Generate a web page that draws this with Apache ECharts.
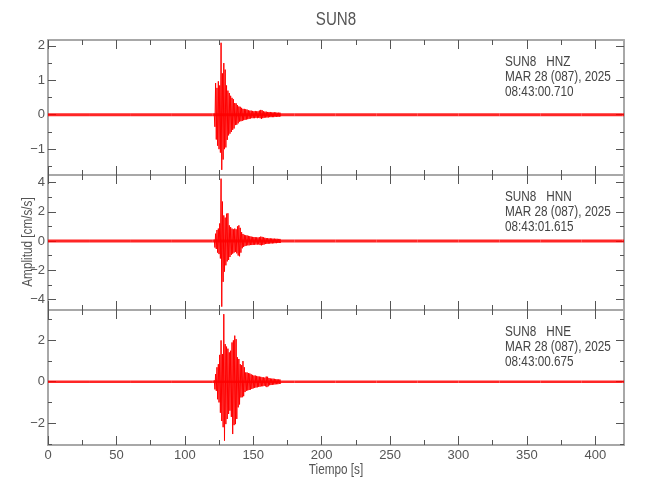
<!DOCTYPE html>
<html><head><meta charset="utf-8">
<script src="https://cdn.jsdelivr.net/npm/echarts@6/dist/echarts.min.js"></script>
<style>html,body{margin:0;padding:0;background:#fff}#c{width:650px;height:500px}</style>
</head><body><div id="c"></div>
<script>
// ---------- data ----------
const chartTitle = 'SUN8';
const xName = 'Tiempo [s]';
const yName = 'Amplitud [cm/s/s]';
const timeMax = 421;
const xMajorTicks = [0, 50, 100, 150, 200, 250, 300, 350, 400];
const xMinorTicks = [25, 75, 125, 175, 225, 275, 325, 375];

const panelStations = ['SUN8   HNZ', 'SUN8   HNN', 'SUN8   HNE'];
const panelDates = ['MAR 28 (087), 2025', 'MAR 28 (087), 2025', 'MAR 28 (087), 2025'];
const panelTimes = ['08:43:00.710', '08:43:01.615', '08:43:00.675'];

const yMin = [-1.75, -4.73, -3.06];
const yMax = [2.17, 4.52, 3.47];
const yMajorTicks = [[-1, 0, 1, 2], [-4, -2, 0, 2, 4], [-2, 0, 2]];
const yMinorTicks = [[-1.5, -0.5, 0.5, 1.5], [-3, -1, 1, 3], [-3, -1, 1, 3]];

// event window: successive oscillation peaks
const eventStart = 121.5, eventStep = 0.5;
const hnzEvent = [0.04,-0.35,0.92,-0.72,0.78,-0.90,0.97,-1.00,0.85,-1.10,
  2.09,-1.60,1.20,-1.30,1.50,-1.00,1.31,-0.95,0.85,-0.73,
  0.70,-0.60,0.63,-0.55,0.55,-0.50,0.49,-0.44,0.45,-0.40,
  0.34,-0.30,0.33,-0.29,0.28,-0.25,0.24,-0.20,0.23,-0.19,
  0.20,-0.18,0.17,-0.16,0.17,-0.15,0.16,-0.14,0.15,-0.13,
  0.13,-0.12,0.12,-0.11,0.12,-0.10,0.11,-0.10,0.10,-0.10,
  0.11,-0.09,0.10,-0.10,0.10,-0.09,0.12,-0.10,0.14,-0.12,
  0.13,-0.10,0.10,-0.09,0.09,-0.08,0.09,-0.08,0.08,-0.08,
  0.08,-0.07,0.08,-0.07,0.07,-0.07,0.07,-0.07,0.07,-0.06,
  0.07,-0.06,0.06,-0.06,0.06,-0.06,0.06,-0.05];
const hnnEvent = [0.10,-0.45,0.50,-0.55,0.75,-0.80,0.85,-0.90,1.20,-1.20,
  4.27,-4.50,2.70,-2.80,1.75,-2.10,1.60,-1.67,1.87,-1.40,
  1.90,-1.30,1.07,-1.10,0.95,-0.95,0.85,-0.87,0.80,-0.80,
  0.85,-0.75,0.80,-0.85,1.00,-1.00,1.07,-1.05,0.90,-0.80,
  0.60,-0.50,0.48,-0.41,0.42,-0.35,0.39,-0.32,0.38,-0.30,
  0.35,-0.30,0.33,-0.28,0.30,-0.28,0.28,-0.27,0.27,-0.26,
  0.26,-0.25,0.25,-0.25,0.24,-0.24,0.26,-0.28,0.30,-0.30,
  0.28,-0.27,0.25,-0.24,0.22,-0.21,0.20,-0.20,0.19,-0.19,
  0.18,-0.18,0.18,-0.17,0.17,-0.17,0.16,-0.16,0.16,-0.15,
  0.15,-0.15,0.15,-0.14,0.14,-0.14,0.14,-0.13];
const hneEvent = [0.08,-0.37,0.37,-0.44,0.70,-0.85,0.85,-1.00,1.30,-1.50,
  2.00,-1.90,1.34,-2.20,3.27,-2.85,1.82,-2.05,1.70,-1.80,
  1.60,-1.56,1.42,-1.40,1.50,-1.70,1.90,-2.53,2.00,-2.10,
  2.23,-2.05,2.06,-1.80,1.18,-1.24,1.10,-1.10,0.85,-0.76,
  0.80,-0.75,1.00,-0.70,0.70,-0.50,0.45,-0.44,0.45,-0.42,
  0.42,-0.40,0.40,-0.38,0.36,-0.35,0.33,-0.32,0.30,-0.30,
  0.30,-0.28,0.28,-0.27,0.26,-0.25,0.25,-0.24,0.24,-0.22,
  0.22,-0.22,0.21,-0.20,0.20,-0.22,0.25,-0.26,0.24,-0.22,
  0.18,-0.17,0.16,-0.16,0.15,-0.15,0.15,-0.14,0.14,-0.13,
  0.13,-0.12,0.12,-0.12,0.11,-0.11,0.11,-0.10];

// background noise half-amplitude per 30 s segment
const noiseStep = 30;
const hnzNoise = [0.045,0.045,0.045,0.045,0.045,0.045,0.045,0.045,0.045,0.045,0.045,0.045,0.045,0.045,0.045];
const hnnNoise = [0.10,0.10,0.10,0.10,0.10,0.10,0.10,0.10,0.10,0.10,0.10,0.10,0.10,0.10,0.10];
const hneNoise = [0.065,0.065,0.065,0.065,0.065,0.065,0.065,0.065,0.065,0.065,0.065,0.065,0.065,0.065,0.065];

const events = [hnzEvent, hnnEvent, hneEvent];
const noises = [hnzNoise, hnnNoise, hneNoise];

// ---------- style / layout ----------
const FONT = "'Liberation Sans', Arial, sans-serif";
const TXT = '#555';
const FRAME = '#a8a8a8';
const TICK = '#555';
const RED = '#ff0000';
const NARROW = 0.84;
const gridTops = [40, 175, 310];
const gridH = 135, gridLeft = 48, gridRight = 26;
const fmt = v => String(v).replace('-', '\u2212');

const grids = [], xAxes = [], yAxes = [], series = [], graphics = [];

gridTops.forEach((top, g) => {
  grids.push({left: gridLeft, right: gridRight, top: top, height: gridH});
  const xBase = {type: 'value', gridIndex: g, min: 0, max: timeMax, splitLine: {show: false}};
  const mkX = (pos, ticks, len, showLine, labels) => Object.assign({}, xBase, {
    position: pos,
    axisLine: {show: showLine, onZero: false, lineStyle: {color: FRAME, width: 2}},
    axisTick: {show: true, inside: true, length: len, customValues: ticks, lineStyle: {color: TICK, width: 1}},
    axisLabel: labels ? {show: true, customValues: ticks, color: TXT, fontSize: 13, fontFamily: FONT, margin: 4, formatter: fmt} : {show: false}
  });
  xAxes.push(mkX('bottom', xMajorTicks, 9, true, g === 2));
  xAxes.push(mkX('bottom', xMinorTicks, 5, false, false));
  xAxes.push(mkX('top', xMajorTicks, 9, true, false));
  xAxes.push(mkX('top', xMinorTicks, 5, false, false));

  const yBase = {type: 'value', gridIndex: g, min: yMin[g], max: yMax[g], splitLine: {show: false}};
  const mkY = (pos, ticks, len, showLine, labels) => Object.assign({}, yBase, {
    position: pos,
    axisLine: {show: showLine, onZero: false, lineStyle: {color: FRAME, width: 2}},
    axisTick: {show: true, inside: true, length: len, customValues: ticks, lineStyle: {color: TICK, width: 1}},
    axisLabel: labels ? {show: true, customValues: ticks, color: TXT, fontSize: 13, fontFamily: FONT, margin: 3, formatter: fmt} : {show: false}
  });
  yAxes.push(mkY('left', yMajorTicks[g], 8, true, true));
  yAxes.push(mkY('left', yMinorTicks[g], 4, false, false));
  yAxes.push(mkY('right', yMajorTicks[g], 8, true, false));
  yAxes.push(mkY('right', yMinorTicks[g], 4, false, false));

  const xi = g * 4, yi = g * 4;
  series.push({
    type: 'custom', xAxisIndex: xi, yAxisIndex: yi, silent: true, clip: true,
    data: noises[g].map((a, i) => [i * noiseStep, Math.min((i + 1) * noiseStep, timeMax), a]),
    encode: {x: [0, 1], y: 2},
    renderItem: (params, api) => {
      const p0 = api.coord([api.value(0), api.value(2)]);
      const p1 = api.coord([api.value(1), -api.value(2)]);
      return {type: 'rect', shape: {x: p0[0], y: p0[1], width: p1[0] - p0[0], height: p1[1] - p0[1]},
        style: {fill: RED, opacity: 0.85}};
    }
  });
  series.push({
    type: 'line', xAxisIndex: xi, yAxisIndex: yi, showSymbol: false, symbol: 'none',
    silent: true, clip: true,
    lineStyle: {color: RED, width: 1},
    data: events[g].map((v, i) => [eventStart + i * eventStep, v])
  });

  graphics.push({
    type: 'text', x: 505, y: top + 15, scaleX: NARROW,
    style: {text: [panelStations[g], panelDates[g], panelTimes[g]].join('\n'),
      fill: '#444', fontSize: 14, fontFamily: FONT, lineHeight: 15, textAlign: 'left', textVerticalAlign: 'top'}
  });
});

graphics.push({
  type: 'text', x: 336, y: 20, scaleX: NARROW,
  style: {text: chartTitle, fill: TXT, fontSize: 18, fontFamily: FONT, textAlign: 'center', textVerticalAlign: 'middle'}
});
graphics.push({
  type: 'text', x: 336, y: 470, scaleX: NARROW,
  style: {text: xName, fill: TXT, fontSize: 14, fontFamily: FONT, textAlign: 'center', textVerticalAlign: 'middle'}
});
graphics.push({
  type: 'text', x: 28, y: 242, rotation: Math.PI / 2, scaleX: NARROW,
  style: {text: yName, fill: TXT, fontSize: 14, fontFamily: FONT, textAlign: 'center', textVerticalAlign: 'middle'}
});

const chart = echarts.init(document.getElementById('c'), null, {renderer: 'canvas'});
chart.setOption({
  animation: false,
  backgroundColor: '#fff',
  grid: grids, xAxis: xAxes, yAxis: yAxes, series: series, graphic: graphics
});
</script></body></html>
